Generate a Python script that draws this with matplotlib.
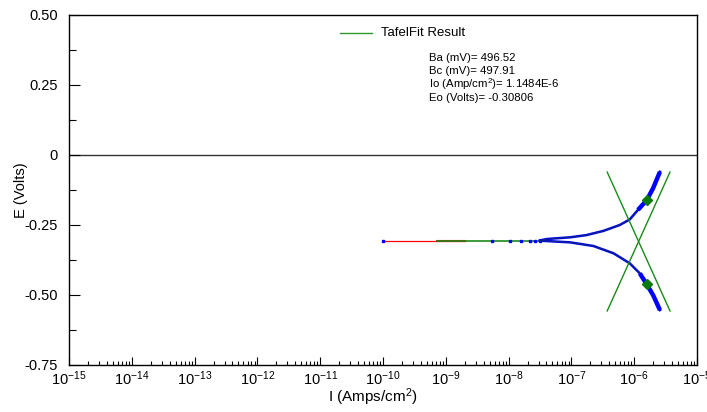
import matplotlib
matplotlib.use("Agg")
import matplotlib.pyplot as plt
from matplotlib.ticker import FixedLocator, NullFormatter

plt.rcParams['font.family'] = ['Liberation Sans', 'DejaVu Sans']
plt.rcParams['mathtext.fontset'] = 'custom'
plt.rcParams['mathtext.rm'] = 'Liberation Sans'
plt.rcParams['mathtext.it'] = 'Liberation Sans'

# ---- data ----
# measured curve, anodic branch (log10 of current in A/cm^2, potential in V)
anodic_logI = [-7.50, -7.39, -7.02, -6.76, -6.49, -6.23, -6.07, -5.94, -5.80, -5.70, -5.59]
anodic_E = [-0.305, -0.300, -0.294, -0.286, -0.271, -0.250, -0.230, -0.196, -0.161, -0.119, -0.060]
# measured curve, cathodic branch
cathodic_logI = [-7.50, -7.02, -6.65, -6.33, -6.07, -5.91, -5.80, -5.70, -5.59]
cathodic_E = [-0.306, -0.312, -0.325, -0.351, -0.387, -0.423, -0.462, -0.500, -0.554]
# sparse points near Ecorr
flat_pts_logI = [-10.0, -8.27, -7.98, -7.80, -7.66, -7.58, -7.50]
flat_pts_E = [-0.308, -0.308, -0.308, -0.308, -0.308, -0.308, -0.308]
# red segment near Ecorr
red_logI = [-10.0, -8.69]
red_E = [-0.308, -0.308]
red_thick_logI = [-9.14, -8.69]
# green fit curve flat part
fit_flat_logI = [-9.14, -7.42]
fit_flat_E = [-0.307, -0.307]
# Tafel lines (end points)
tafel_a_logI = [-6.43, -5.43]
tafel_a_E = [-0.557, -0.061]
tafel_c_logI = [-6.43, -5.43]
tafel_c_E = [-0.061, -0.557]
# fit range markers
marker_logI = [-5.80, -5.80]
marker_E = [-0.161, -0.461]

# axis ticks
x_decades = list(range(-15, -4))
y_major = [0.50, 0.25, 0.0, -0.25, -0.50, -0.75]
y_major_labels = ['0.50', '0.25', '0', '-0.25', '-0.50', '-0.75']
y_minor = [0.375, 0.125, -0.125, -0.375, -0.625]

fit_text = ["Ba (mV)= 496.52", "Bc (mV)= 497.91",
            r"Io (Amp/cm$^{2}$)= 1.1484E-6", "Eo (Volts)= -0.30806"]


def p10(v):
    return [10.0 ** x for x in v]


# ---- figure ----
fig = plt.figure(figsize=(7.07, 4.12), dpi=100)
ax = fig.add_axes([69/707, 1-365/412, (697-69)/707, (365-15)/412])
ax.set_xscale('log')
ax.set_xlim(1e-15, 1e-5)
ax.set_ylim(-0.75, 0.50)

green = '#1a8a1a'
ax.axhline(0, color='#333333', lw=1.0, zorder=1)

ax.plot(p10(red_logI), red_E, color='red', lw=0.9, zorder=2)
ax.plot(p10(red_thick_logI), red_E, color='red', lw=1.5, zorder=2)
ax.plot(p10(fit_flat_logI), fit_flat_E, color=green, lw=1.2, zorder=3)
ax.plot(p10(flat_pts_logI), flat_pts_E, linestyle='none', marker='s', ms=1.6,
        color='blue', zorder=4)

# measured branches
ax.plot(p10(anodic_logI), anodic_E, color='blue', lw=1.8, zorder=4)
ax.plot(p10(cathodic_logI), cathodic_E, color='blue', lw=1.8, zorder=4)
ax.plot(p10(anodic_logI[7:]), anodic_E[7:], color='blue', lw=3.2, zorder=4,
        solid_capstyle='butt')
ax.plot(p10(cathodic_logI[5:]), cathodic_E[5:], color='blue', lw=3.2, zorder=4,
        solid_capstyle='butt')
ax.plot(p10(anodic_logI[:8]), anodic_E[:8], color='#102a70', lw=0.7, zorder=5)
ax.plot(p10(cathodic_logI[:6]), cathodic_E[:6], color='#102a70', lw=0.7, zorder=5)

# Tafel lines
ax.plot(p10(tafel_a_logI), tafel_a_E, color=green, lw=1.0, zorder=6)
ax.plot(p10(tafel_c_logI), tafel_c_E, color=green, lw=1.0, zorder=6)
ax.plot(p10(marker_logI), marker_E, linestyle='none', marker='D', ms=5,
        color='#0a7a0a', zorder=7)

# ticks
ax.xaxis.set_major_locator(FixedLocator([10.0**d for d in x_decades]))
ax.set_xticklabels([r'$10^{%d}$' % d for d in x_decades])
minors = [m * 10.0**d for d in x_decades[:-1] for m in range(2, 10)]
ax.xaxis.set_minor_locator(FixedLocator(minors))
ax.xaxis.set_minor_formatter(NullFormatter())
ax.set_yticks(y_major)
ax.set_yticklabels(y_major_labels)
ax.set_yticks(y_minor, minor=True)

ax.tick_params(axis='x', which='major', direction='in', length=5.5, width=0.8,
               labelsize=10.5, pad=3, top=False)
ax.tick_params(axis='x', which='minor', direction='in', length=3, width=0.8, top=False)
ax.tick_params(axis='y', which='major', direction='in', length=8, width=0.8,
               labelsize=10.5, pad=8, right=False)
ax.tick_params(axis='y', which='minor', direction='in', length=5, width=0.8, right=False)

for s in ax.spines.values():
    s.set_linewidth(1.0)
    s.set_color('black')

ax.set_xlabel(r'I (Amps/cm$^{2}$)', fontsize=11)
ax.set_ylabel('E (Volts)', fontsize=10.5)
ax.xaxis.set_label_coords((373-69)/628, (365-397)/350)
ax.yaxis.set_label_coords((21-69)/628, 0.5)
ax.xaxis.label.set_va('center')
ax.yaxis.label.set_va('center')

# legend and fit text
fig.add_artist(plt.Line2D([340/707, 372/707], [1-33/412, 1-33/412], color='#2a9a2a', lw=1.0))
fig.text(381/707, 1-33/412, 'TafelFit Result', fontsize=9.5, va='center', ha='left')
for i, t in enumerate(fit_text):
    fig.text(429/707, 1-(58 + 13.3*i)/412, t, fontsize=8.2, va='center', ha='left')

fig.savefig('out.png', dpi=100)
